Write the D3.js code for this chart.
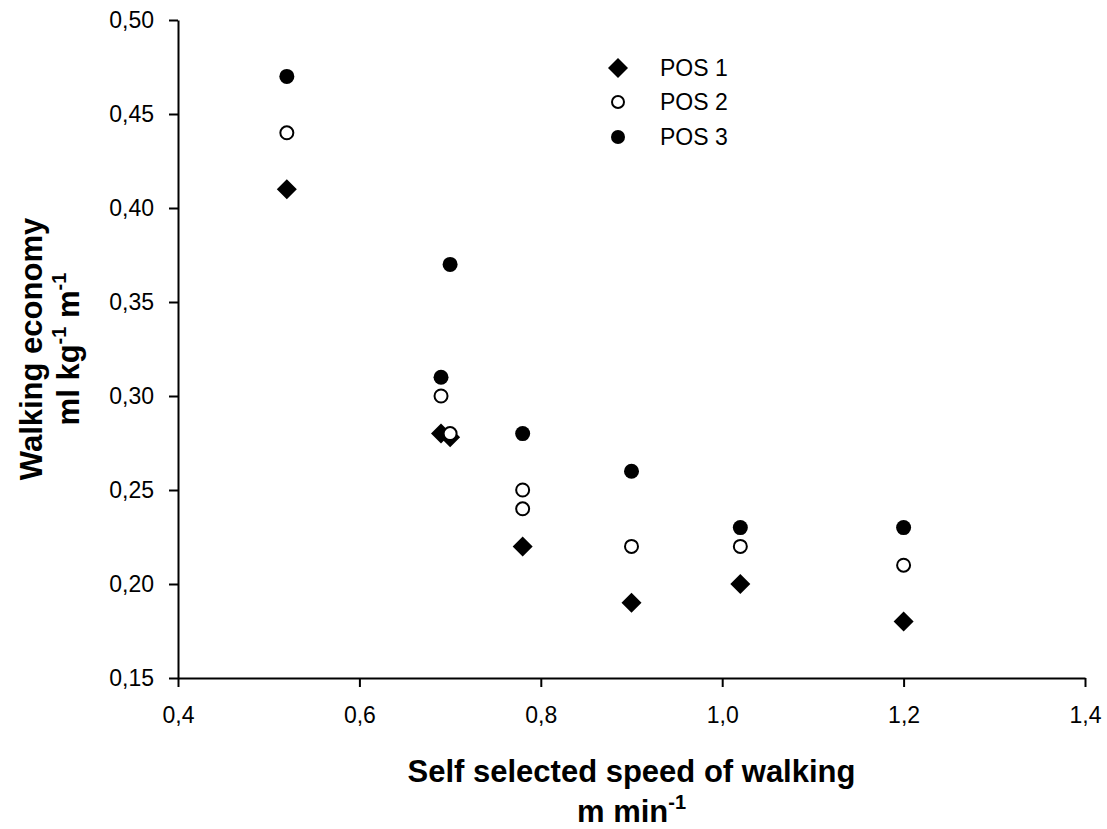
<!DOCTYPE html>
<html>
<head>
<meta charset="utf-8">
<script src="https://cdn.jsdelivr.net/npm/d3@7"></script>
<style>
  html, body { margin: 0; padding: 0; background: #fff; }
  svg text { font-family: Arial, "Liberation Sans", sans-serif; fill: #000; }
</style>
</head>
<body>
<svg id="chart" width="1107" height="829"></svg>
<script>
// ---- data ----
const seriesNames = ["POS 1", "POS 2", "POS 3"];
const pos1X = [0.52, 0.69, 0.70, 0.78, 0.90, 1.02, 1.20];
const pos1Y = [0.41, 0.28, 0.278, 0.22, 0.19, 0.20, 0.18];
const pos2X = [0.52, 0.69, 0.70, 0.78, 0.78, 0.90, 1.02, 1.20];
const pos2Y = [0.44, 0.30, 0.28, 0.25, 0.24, 0.22, 0.22, 0.21];
const pos3X = [0.52, 0.70, 0.69, 0.78, 0.90, 1.02, 1.20];
const pos3Y = [0.47, 0.37, 0.31, 0.28, 0.26, 0.23, 0.23];
const xTicks = [0.4, 0.6, 0.8, 1.0, 1.2, 1.4];
const yTicks = [0.15, 0.20, 0.25, 0.30, 0.35, 0.40, 0.45, 0.50];

const svg = d3.select("#chart");
const m = { left: 178, right: 1085, top: 20, bottom: 678 };

const x = d3.scaleLinear().domain([0.4, 1.4]).range([m.left, m.right]);
const y = d3.scaleLinear().domain([0.15, 0.50]).range([m.bottom, m.top]);

const fmtX = d => d3.format(".1f")(d).replace(".", ",");
const fmtY = d => d3.format(".2f")(d).replace(".", ",");

const xAxis = svg.append("g")
  .attr("transform", `translate(0,${m.bottom})`)
  .call(d3.axisBottom(x).tickValues(xTicks).tickFormat(fmtX).tickSize(9).tickSizeOuter(0).tickPadding(20));
const yAxis = svg.append("g")
  .attr("transform", `translate(${m.left},0)`)
  .call(d3.axisLeft(y).tickValues(yTicks).tickFormat(fmtY).tickSize(9).tickSizeOuter(0).tickPadding(15));

[xAxis, yAxis].forEach(g => {
  g.selectAll("path.domain").attr("stroke", "#000").attr("stroke-width", 2);
  g.selectAll(".tick line").attr("stroke", "#000").attr("stroke-width", 2);
  g.selectAll(".tick text").attr("font-size", 23).attr("font-family", "Arial, 'Liberation Sans', sans-serif").attr("fill", "#000");
});

// markers
const diamond = r => `M0,${-r}L${r},0L0,${r}L${-r},0Z`;
const zip = (xs, ys) => xs.map((v, i) => ({ x: v, y: ys[i] }));

function drawSeries(data, kind) {
  const g = svg.append("g");
  if (kind === 0) {
    g.selectAll("path").data(data).join("path")
      .attr("d", diamond(10))
      .attr("transform", d => `translate(${x(d.x)},${y(d.y)})`)
      .attr("fill", "#000");
  } else {
    g.selectAll("circle").data(data).join("circle")
      .attr("cx", d => x(d.x)).attr("cy", d => y(d.y))
      .attr("r", kind === 1 ? 6.5 : 7.5)
      .attr("fill", kind === 1 ? "#fff" : "#000")
      .attr("stroke", "#000")
      .attr("stroke-width", kind === 1 ? 2 : 0);
  }
}
drawSeries(zip(pos1X, pos1Y), 0);
drawSeries(zip(pos2X, pos2Y), 1);
drawSeries(zip(pos3X, pos3Y), 2);

// legend
const leg = svg.append("g");
const legY = [68, 102, 137];
seriesNames.forEach((name, i) => {
  const cx = 618, cy = legY[i];
  if (i === 0) {
    leg.append("path").attr("d", diamond(10)).attr("transform", `translate(${cx},${cy})`).attr("fill", "#000");
  } else {
    leg.append("circle").attr("cx", cx).attr("cy", cy).attr("r", i === 1 ? 6 : 7)
      .attr("fill", i === 1 ? "#fff" : "#000").attr("stroke", "#000").attr("stroke-width", i === 1 ? 2 : 0);
  }
  leg.append("text").attr("x", 660).attr("y", cy).attr("dy", "0.36em")
    .attr("font-size", 23).text(name);
});

// axis titles
const cxTitle = (m.left + m.right) / 2;
svg.append("text").attr("x", cxTitle).attr("y", 782)
  .attr("text-anchor", "middle").attr("font-size", 31).attr("font-weight", "bold")
  .text("Self selected speed of walking");
const xt2 = svg.append("text").attr("x", cxTitle).attr("y", 822)
  .attr("text-anchor", "middle").attr("font-size", 31).attr("font-weight", "bold");
xt2.append("tspan").text("m min");
xt2.append("tspan").attr("font-size", 20).attr("dy", -13).text("-1");

const cyTitle = (m.top + m.bottom) / 2;
svg.append("text").attr("transform", `translate(42,${cyTitle}) rotate(-90)`)
  .attr("text-anchor", "middle").attr("font-size", 31).attr("font-weight", "bold")
  .text("Walking economy");
const yt2 = svg.append("text").attr("transform", `translate(79,${cyTitle}) rotate(-90)`)
  .attr("text-anchor", "middle").attr("font-size", 31).attr("font-weight", "bold");
yt2.append("tspan").text("ml kg");
yt2.append("tspan").attr("font-size", 20).attr("dy", -13).text("-1");
yt2.append("tspan").attr("dy", 13).text(" m");
yt2.append("tspan").attr("font-size", 20).attr("dy", -13).text("-1");
</script>
</body>
</html>
